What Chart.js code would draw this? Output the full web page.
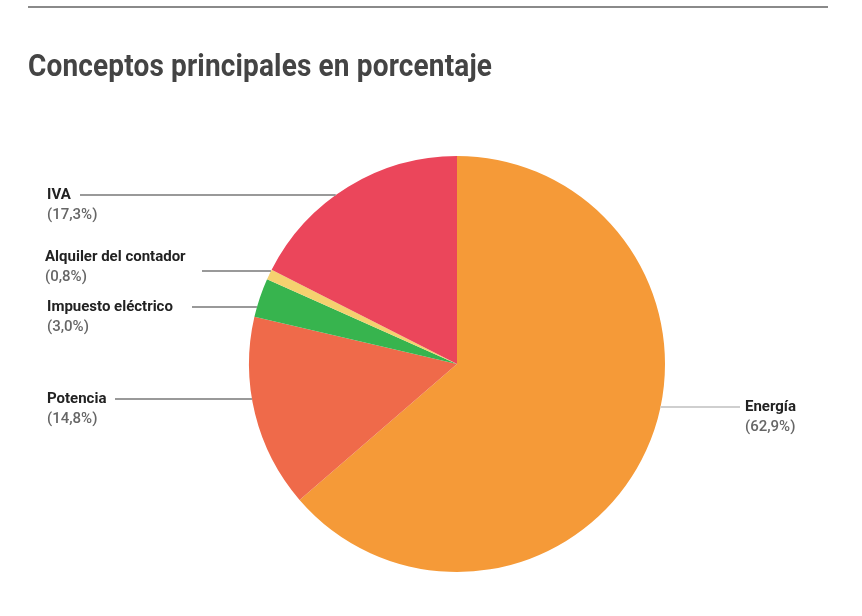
<!DOCTYPE html>
<html><head><meta charset="utf-8">
<script src="https://cdn.jsdelivr.net/npm/chart.js@4"></script>
<style>
html,body{margin:0;padding:0;background:#fff;width:862px;height:616px;overflow:hidden;}
#rule{position:absolute;left:28px;top:6px;width:800px;height:2px;background:#8a8a8a;}
#title{position:absolute;left:28px;top:47px;margin:0;font-family:Roboto,sans-serif;font-weight:700;font-size:28px;color:#444;letter-spacing:0.15px;transform:scaleY(1.12);transform-origin:left top;white-space:nowrap;}
#wrap{position:absolute;left:0;top:0;width:862px;height:616px;}
</style></head>
<body>
<div id="wrap"><canvas id="c" width="862" height="616"></canvas></div>
<div id="rule"></div>
<h1 id="title">Conceptos principales en porcentaje</h1>
<script>
const categories = ["Energía","Potencia","Impuesto eléctrico","Alquiler del contador","IVA"];
const values = [62.9, 14.8, 3.0, 0.8, 17.3];
const valueLabels = ["(62,9%)","(14,8%)","(3,0%)","(0,8%)","(17,3%)"];
const colors = ["#F59A38","#EF6A4A","#37B44E","#F5D16F","#EB465B"];

// label layout: side, leader line y, text x, text top row y
const labelLayout = [
  {side:"right", y:407, textY:407, textX:745, lineStart:740, lineColor:"#cfcfcf"},
  {side:"left",  y:399, textY:399, textX:47,  lineStart:115, lineColor:"#999"},
  {side:"left",  y:307, textY:307, textX:47,  lineStart:192, lineColor:"#999"},
  {side:"left",  y:271, textY:257, textX:45,  lineStart:202, lineColor:"#999"},
  {side:"left",  y:195, textY:195, textX:47,  lineStart:80,  lineColor:"#999"}
];

const leaderPlugin = {
  id:'leaders',
  afterDraw(chart){
    const ctx = chart.ctx;
    const arc = chart.getDatasetMeta(0).data[0];
    const cx = arc.x, cy = arc.y, r = arc.outerRadius;
    ctx.save();
    labelLayout.forEach((L,i)=>{
      const dy = L.y - cy;
      const dx = Math.sqrt(Math.max(0, r*r - dy*dy));
      const edgeX = L.side === "left" ? cx - dx : cx + dx;
      ctx.strokeStyle = L.lineColor;
      ctx.lineWidth = 2;
      ctx.beginPath();
      ctx.moveTo(L.lineStart, L.y);
      ctx.lineTo(edgeX, L.y);
      ctx.stroke();
      ctx.textBaseline = 'middle';
      ctx.textAlign = 'left';
      ctx.font = '700 15px "Roboto", sans-serif';
      ctx.fillStyle = '#222';
      ctx.fillText(categories[i], L.textX, L.textY);
      ctx.font = '500 15px "Roboto", sans-serif';
      ctx.fillStyle = '#666';
      ctx.fillText(valueLabels[i], L.textX, L.textY + 20);
    });
    ctx.restore();
  }
};

new Chart(document.getElementById('c'), {
  type:'pie',
  data:{labels:categories, datasets:[{data:values, backgroundColor:colors, borderWidth:0, hoverOffset:0}]},
  options:{
    responsive:false, animation:false, devicePixelRatio:1,
    layout:{padding:{top:156, bottom:44, left:200, right:148}},
    plugins:{legend:{display:false}, tooltip:{enabled:false}, title:{display:false}}
  },
  plugins:[leaderPlugin]
});
</script>
</body></html>
